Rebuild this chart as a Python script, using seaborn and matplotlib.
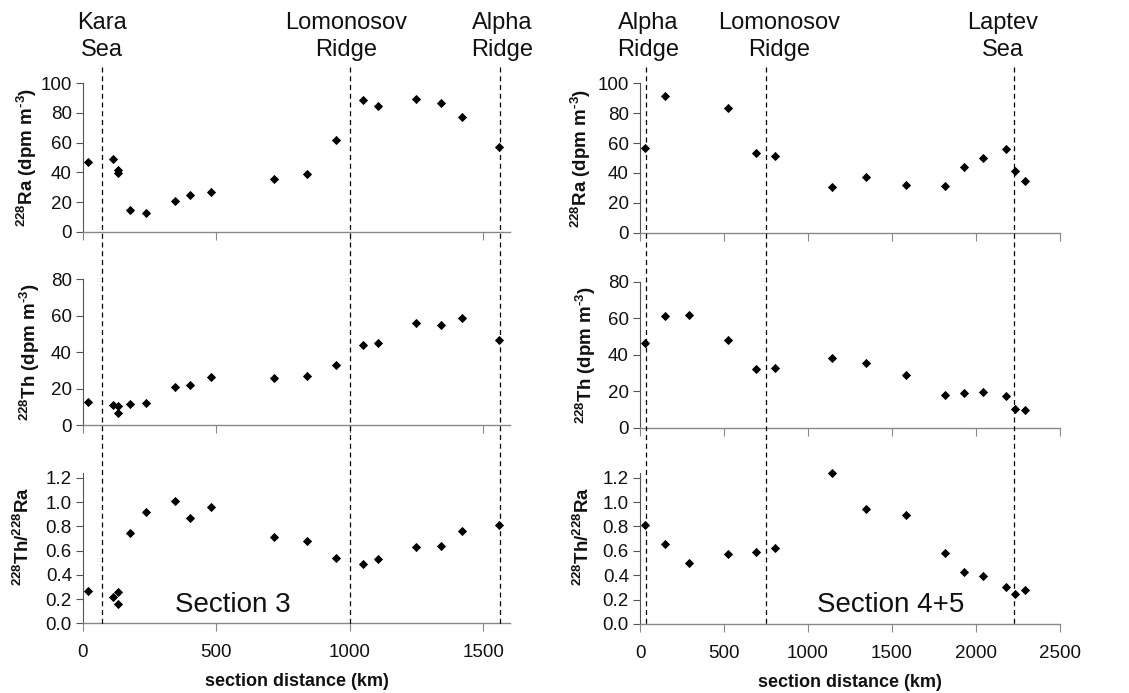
import numpy as np
import pandas as pd
import matplotlib
matplotlib.use("Agg")
import matplotlib.pyplot as plt
import matplotlib.transforms as mtransforms
from matplotlib.lines import Line2D
import seaborn as sns

# ---------------- data ----------------
# Section 3
dist_s3 = [20, 114, 132, 132, 177, 236, 346, 402, 480, 714, 840, 948, 1050, 1105, 1248, 1340, 1421, 1558]
ra_s3 = [47.2, 49.0, 41.6, 39.6, 14.8, 12.4, 20.4, 24.9, 26.7, 35.7, 38.9, 61.6, 88.8, 84.9, 89.2, 86.7, 77.3, 57.3]
th_s3 = [12.6, 11.2, 10.6, 6.4, 11.5, 12.1, 20.7, 21.8, 26.4, 26.0, 26.9, 33.1, 43.9, 45.2, 56.2, 55.1, 58.8, 46.5]
ratio_s3 = [0.266, 0.219, 0.261, 0.159, 0.741, 0.920, 1.005, 0.868, 0.958, 0.714, 0.681, 0.535, 0.489, 0.527, 0.626, 0.634, 0.758, 0.810]

# Section 4+5
dist_s45 = [30, 148, 294, 522, 693, 801, 1143, 1345, 1584, 1818, 1928, 2039, 2176, 2232, 2289]
ra_s45 = [56.9, 91.7, np.nan, 83.7, 53.1, 51.1, 30.4, 37.5, 31.7, 31.3, 43.8, 50.0, 56.3, 41.3, 34.4]
th_s45 = [46.2, 61.2, 61.6, 47.9, 32.0, 32.5, 38.0, 35.4, 28.9, 18.1, 19.0, 19.7, 17.2, 10.4, 9.9]
ratio_s45 = [0.81, 0.66, 0.50, 0.57, 0.59, 0.62, 1.24, 0.94, 0.89, 0.58, 0.43, 0.39, 0.30, 0.25, 0.28]

# boundaries (km) and their labels
bounds_s3 = [70, 1000, 1561]
bound_labels_s3 = ["Kara\nSea", "Lomonosov\nRidge", "Alpha\nRidge"]
bound_label_x_s3 = [70, 985, 1571]
bounds_s45 = [36, 748, 2226]
bound_labels_s45 = ["Alpha\nRidge", "Lomonosov\nRidge", "Laptev\nSea"]
bound_label_x_s45 = [48, 827, 2161]

section_titles = ["Section 3", "Section 4+5"]
ylabels = [r"$\mathbf{^{228}}$Ra (dpm m$\mathbf{^{‐3}}$)",
           r"$\mathbf{^{228}}$Th (dpm m$\mathbf{^{‐3}}$)",
           r"$\mathbf{^{228}}$Th/$\mathbf{^{228}}$Ra"]
xlabel = "section distance (km)"

# ---------------- style ----------------
sns.set_style("white")
plt.rcParams["font.family"] = ["Liberation Sans", "DejaVu Sans"]
plt.rcParams["mathtext.fontset"] = "custom"
plt.rcParams["mathtext.rm"] = "Liberation Sans"
plt.rcParams["mathtext.bf"] = "Liberation Sans:bold"

W, H = 1129, 693
fig = plt.figure(figsize=(W / 100, H / 100), dpi=100)
fig.patch.set_facecolor("white")

def px_axes(x0, x1, ytop, ybot):
    return fig.add_axes([x0 / W, 1 - ybot / H, (x1 - x0) / W, (ybot - ytop) / H])

left_axes = [px_axes(83, 510, 83.3, 231.7), px_axes(83, 510, 279.3, 425.0), px_axes(83, 510, 472.9, 623.3)]
right_axes = [px_axes(640, 1060, 83.3, 232.7), px_axes(640, 1060, 281.7, 427.7), px_axes(640, 1060, 472.8, 624.0)]

ylims = [(0, 100), (0, 80), (0, 1.24)]
yticks = [np.arange(0, 101, 20), np.arange(0, 81, 20), np.arange(0, 1.21, 0.2)]

sets = [
    (left_axes, dist_s3, [ra_s3, th_s3, ratio_s3], (0, 1600), [0, 500, 1000, 1500],
     bounds_s3, bound_labels_s3, bound_label_x_s3, section_titles[0], 562,
     [-0.103, -0.097, -0.117]),
    (right_axes, dist_s45, [ra_s45, th_s45, ratio_s45], (0, 2500), [0, 500, 1000, 1500, 2000, 2500],
     bounds_s45, bound_labels_s45, bound_label_x_s45, section_titles[1], 1494,
     [-0.112, -0.100, -0.112]),
]

for axes, dist, series, xlim, xticks, bounds, blabels, blx, title, title_x, ylab_x in sets:
    for i, (ax, vals) in enumerate(zip(axes, series)):
        df = pd.DataFrame({"d": dist, "v": vals})
        sns.scatterplot(data=df, x="d", y="v", ax=ax, marker="D", s=22,
                        color="black", edgecolor="black", linewidth=0, zorder=3,
                        clip_on=(i < 2))
        ax.set_xlim(*xlim)
        ax.set_ylim(*ylims[i])
        ax.set_xticks(xticks)
        ax.set_yticks(yticks[i])
        if i == 2:
            ax.yaxis.set_major_formatter(matplotlib.ticker.FormatStrFormatter("%.1f"))
        ax.set_facecolor("none")
        for s in ["top", "right"]:
            ax.spines[s].set_visible(False)
        ax.spines["left"].set_color("#555555")
        ax.spines["bottom"].set_color("#888888")
        ax.spines["left"].set_linewidth(0.8)
        ax.spines["bottom"].set_linewidth(1.0)
        ax.tick_params(axis="y", direction="out", length=5, width=0.8, color="#555555",
                       labelsize=13.5, labelcolor="#111111", pad=3, left=True)
        ax.tick_params(axis="x", direction="out", length=6, width=0.8, color="#888888",
                       labelsize=13.5, labelcolor="#111111", pad=9, bottom=True)
        ax.set_ylabel(ylabels[i], fontsize=13.5, fontweight="bold", color="#111111")
        ax.yaxis.set_label_coords(ylab_x[i], 0.5 if i < 2 else 0.58)
        if i < 2:
            ax.set_xlabel("")
            ax.tick_params(axis="x", labelbottom=False)
        else:
            ax.set_xlabel(xlabel, fontsize=13, fontweight="bold", color="#111111")
            ax.xaxis.set_label_coords(0.5, -0.33)
    # dashed boundary lines across all three panels
    trans = mtransforms.blended_transform_factory(axes[2].transData, fig.transFigure)
    for b in bounds:
        fig.add_artist(Line2D([b, b], [1 - 67 / H, 1 - 623.5 / H], transform=trans,
                              color="black", linestyle=(0, (4, 3)), linewidth=0.9))
    # boundary labels
    ttrans = mtransforms.blended_transform_factory(axes[0].transData, fig.transFigure)
    for lx, lab in zip(blx, blabels):
        fig.text(lx, 1 - 12 / H, lab, transform=ttrans, ha="center", va="top",
                 fontsize=17, linespacing=1.32, color="#111111")
    # section title
    axes[2].text(title_x, 0.155, title, ha="center", va="center", fontsize=20, color="#111111")

fig.savefig("out.png", dpi=100, facecolor="white")
